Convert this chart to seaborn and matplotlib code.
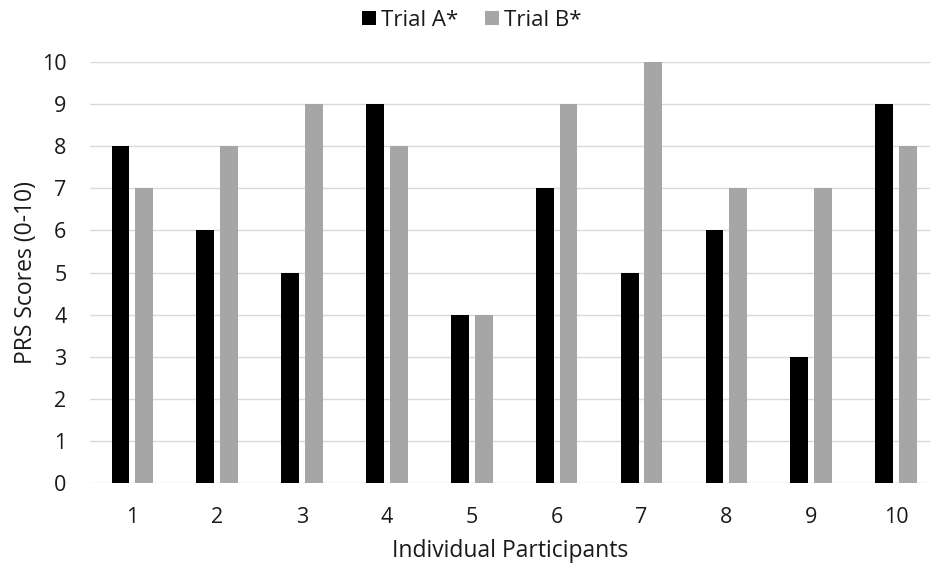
import matplotlib
matplotlib.use("Agg")
import matplotlib.pyplot as plt
import seaborn as sns
import pandas as pd

participants = ["1", "2", "3", "4", "5", "6", "7", "8", "9", "10"]
trial_a = [8, 6, 5, 9, 4, 7, 5, 6, 3, 9]
trial_b = [7, 8, 9, 8, 4, 9, 10, 7, 7, 8]
series_names = ["Trial A*", "Trial B*"]
y_ticks = [0, 1, 2, 3, 4, 5, 6, 7, 8, 9, 10]

df = pd.DataFrame({
    "Participant": participants * 2,
    "Score": trial_a + trial_b,
    "Trial": [series_names[0]] * len(participants) + [series_names[1]] * len(participants),
})

sns.set_theme(style="white")
plt.rcParams["font.family"] = ["Open Sans", "DejaVu Sans"]

fig = plt.figure(figsize=(9.3, 5.68), dpi=100)
ax = fig.add_axes([90 / 930, 1 - 483 / 568, 1 - 90 / 930, (483 - 62) / 568])

sns.barplot(data=df, x="Participant", y="Score", hue="Trial",
            order=participants, hue_order=series_names,
            palette=["#000000", "#a6a6a6"], width=0.56, gap=0.25,
            saturation=1, linewidth=0, ax=ax, legend=True)

ax.set_ylim(0, 10)
ax.set_xlim(-0.5, 9.4)
ax.set_yticks(y_ticks)
ax.yaxis.grid(True, color="#d9d9d9", linewidth=1)
ax.set_axisbelow(True)
for s in ax.spines.values():
    s.set_visible(False)
txt = "#1a1a1a"
ax.tick_params(axis="both", length=0, labelsize=15.5, colors=txt)
ax.tick_params(axis="x", pad=17)
ax.tick_params(axis="y", pad=17)
ax.set_xlabel("Individual Participants", fontsize=16.5, color=txt, labelpad=8)
ax.set_ylabel("PRS Scores (0-10)", fontsize=16.5, color=txt, labelpad=3)

leg = ax.legend(loc="center", bbox_to_anchor=(472 / 930, 1 - 20 / 568),
                bbox_transform=fig.transFigure, ncol=2, frameon=False,
                fontsize=16, handlelength=0.6, handleheight=0.6,
                handletextpad=0.25, columnspacing=1.2, borderpad=0)
for t in leg.get_texts():
    t.set_color(txt)

fig.savefig("out.png", dpi=100)
